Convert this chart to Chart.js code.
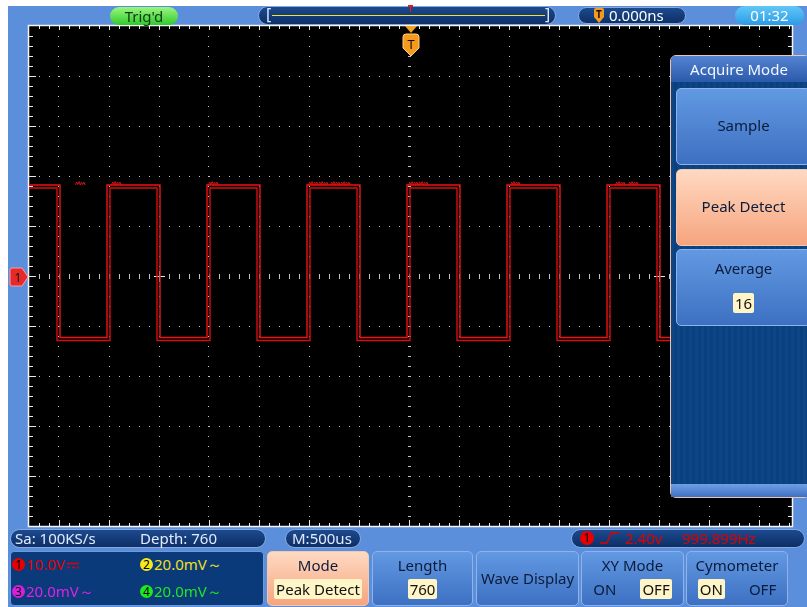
<!DOCTYPE html>
<html>
<head>
<meta charset="utf-8">
<script src="https://cdn.jsdelivr.net/npm/chart.js@4.4.1/dist/chart.umd.min.js"></script>
<style>
  html, body { margin: 0; padding: 0; background: #fff; }
  body { width: 807px; height: 607px; position: relative; overflow: hidden;
         font-family: "Noto Sans", "Open Sans", sans-serif; }
  #screen { position: absolute; left: 8px; top: 6px; width: 799px; height: 601px; background: #5b8fdc; }
  #scope { position: absolute; left: 0; top: 0; }
  .abs { position: absolute; box-sizing: border-box; }
  .pill { border-radius: 10px; background: linear-gradient(#1d4a8e, #0d2f66); border: 1px solid #86a8dc; }
  .btn { border-radius: 5px; border: 1px solid #8fb3e8; background: linear-gradient(#6299e2, #3d70c2);
         color: #0b1b3a; text-align: center; font-size: 15px; }
  .btn.hot { background: linear-gradient(#ffd9c2, #f6a47e); border-color: #f3c9b0; }
  .sel { background: #fff5c6; color: #111; border-radius: 2px; padding: 0 2px; }
  .num { display: inline-block; width: 13px; height: 13px; border-radius: 7px; color: #000;
         font-size: 12px; line-height: 13px; text-align: center; vertical-align: 1px; margin-right: 1px; }
</style>
</head>
<body>
<div id="screen"></div>
<canvas id="scope" width="807" height="607"></canvas>

<!-- top bar -->
<div class="abs" style="left:110px;top:7px;width:68px;height:18px;border-radius:9px;background:linear-gradient(#9cf57f,#2ecb2e);color:#0f3a0f;font-size:15px;line-height:18px;text-align:center;">Trig'd</div>
<div class="abs pill" style="left:258px;top:6px;width:298px;height:19px;"></div>
<div class="abs" style="left:266px;top:3px;color:#dfe8ff;font-size:16px;">[</div>
<div class="abs" style="left:545px;top:3px;color:#dfe8ff;font-size:16px;">]</div>
<div class="abs" style="left:272px;top:15px;width:273px;height:1px;background:#f2e23a;"></div>
<div class="abs" style="left:408px;top:5px;width:5px;height:2px;background:#e81818;"></div>
<div class="abs" style="left:410px;top:5px;width:1px;height:7px;background:#e81818;"></div>
<div class="abs pill" style="left:578px;top:7px;width:108px;height:17px;"></div>
<svg class="abs" style="left:592px;top:8px;" width="14" height="16"><path d="M2 2 Q2 0 4 0 H10 Q12 0 12 2 V9 L7 15 L2 9 Z" fill="#f59a1e"/><text x="7" y="10" font-size="10" text-anchor="middle" font-family="Noto Sans" font-weight="bold" fill="#111">T</text></svg>
<div class="abs" style="left:609px;top:6px;color:#fff;font-size:15px;line-height:18px;">0.000ns</div>
<div class="abs" style="left:735px;top:6px;width:69px;height:19px;border-radius:10px;background:linear-gradient(#62c7f7,#2a9ce6);color:#fff;font-size:15px;line-height:19px;text-align:center;">01:32</div>

<!-- trigger position marker -->
<svg class="abs" style="left:401px;top:26px;" width="20" height="32">
  <path d="M4 0 H16 L10 7 Z" fill="#f5a21e"/>
  <path d="M2 11 Q2 8 5 8 H15 Q18 8 18 11 V22 L10 30 L2 22 Z" fill="#f59a1e" stroke="#ffcf7a" stroke-width="1"/>
  <text x="10" y="23" font-size="13" text-anchor="middle" font-family="Noto Sans" fill="#111">T</text>
</svg>
<!-- channel 1 marker -->
<svg class="abs" style="left:8px;top:267px;" width="22" height="20">
  <path d="M2 3 Q2 1 4 1 H14 L20 10 L14 19 H4 Q2 19 2 17 Z" fill="#e52a2a" stroke="#ff9a9a" stroke-width="1"/>
  <text x="10" y="15" font-size="12" text-anchor="middle" font-family="Noto Sans" fill="#111">1</text>
</svg>

<!-- Acquire Mode menu -->
<div class="abs" style="left:670px;top:55px;width:140px;height:443px;border-radius:6px;border:1px solid #f0c4ac;background:repeating-linear-gradient(90deg,#0c4686 0 3px,#0a407e 3px 6px);"></div>
<div class="abs" style="left:671px;top:56px;width:136px;height:26px;border-radius:5px 0 0 0;background:linear-gradient(#5383d2,#2a5aa9);color:#f2f6ff;font-size:15px;line-height:26px;text-align:center;">Acquire Mode</div>
<div class="abs btn" style="left:676px;top:88px;width:135px;height:77px;line-height:73px;">Sample</div>
<div class="abs btn hot" style="left:676px;top:169px;width:135px;height:77px;line-height:73px;">Peak Detect</div>
<div class="abs btn" style="left:676px;top:249px;width:135px;height:77px;">
  <div style="margin-top:8px;line-height:20px;">Average</div>
  <div style="margin-top:15px;line-height:20px;"><span class="sel">16</span></div>
</div>
<div class="abs" style="left:671px;top:484px;width:136px;height:13px;background:linear-gradient(#6fa0e6,#3e6fc2);"></div>

<!-- status row -->
<div class="abs pill" style="left:10px;top:529px;width:256px;height:19px;"></div>
<div class="abs" style="left:15px;top:528px;color:#e3ebff;font-size:15px;line-height:20px;">Sa: 100KS/s</div>
<div class="abs" style="left:140px;top:528px;color:#e3ebff;font-size:15px;line-height:20px;">Depth: 760</div>
<div class="abs pill" style="left:285px;top:529px;width:76px;height:19px;"></div>
<div class="abs" style="left:292px;top:528px;color:#e3ebff;font-size:15px;line-height:20px;">M:500us</div>
<div class="abs pill" style="left:571px;top:529px;width:234px;height:19px;"></div>
<div class="abs" style="left:580px;top:531px;width:14px;height:14px;border-radius:7px;background:#e80000;color:#000;font-size:12px;line-height:14px;text-align:center;">1</div>
<svg class="abs" style="left:599px;top:530px;" width="22" height="16"><path d="M1 13 H8 L12 3 H20" fill="none" stroke="#e00000" stroke-width="1.3"/></svg>
<div class="abs" style="left:625px;top:528px;color:#e00000;font-size:15px;line-height:20px;">2.40v</div>
<div class="abs" style="left:682px;top:528px;color:#e00000;font-size:15px;line-height:20px;">999.899Hz</div>

<!-- channel box -->
<div class="abs" style="left:10px;top:551px;width:254px;height:55px;border-radius:4px;border:1px solid #6d9ad8;background:#0b3a7a;"></div>
<div class="abs" style="left:12px;top:554px;color:#e00000;font-size:15px;line-height:20px;"><span class="num" style="background:#e80000;">1</span>10.0V<svg width="14" height="10" style="margin-left:1px;"><path d="M1 3.5 H13" stroke="#e00000" stroke-width="1.5"/><path d="M1 7.5 H13" stroke="#e00000" stroke-width="1.5" stroke-dasharray="3 2"/></svg></div>
<div class="abs" style="left:140px;top:554px;color:#f0e020;font-size:15px;line-height:20px;"><span class="num" style="background:#f6e81a;">2</span>20.0mV～</div>
<div class="abs" style="left:12px;top:581px;color:#e020e8;font-size:15px;line-height:20px;"><span class="num" style="background:#d81ee0;">3</span>20.0mV～</div>
<div class="abs" style="left:140px;top:581px;color:#1ee81e;font-size:15px;line-height:20px;"><span class="num" style="background:#1ee81e;">4</span>20.0mV～</div>

<!-- soft buttons -->
<div class="abs btn hot" style="left:267px;top:551px;width:102px;height:55px;">
  <div style="line-height:26px;">Mode</div><div style="line-height:22px;"><span class="sel">Peak Detect</span></div></div>
<div class="abs btn" style="left:372px;top:551px;width:101px;height:55px;">
  <div style="line-height:26px;">Length</div><div style="line-height:22px;"><span class="sel">760</span></div></div>
<div class="abs btn" style="left:476px;top:551px;width:103px;height:55px;line-height:53px;">Wave Display</div>
<div class="abs btn" style="left:581px;top:551px;width:103px;height:55px;">
  <div style="line-height:26px;">XY Mode</div>
  <div style="line-height:22px;"><span style="margin-right:24px;">ON</span><span class="sel">OFF</span></div></div>
<div class="abs btn" style="left:686px;top:551px;width:102px;height:55px;">
  <div style="line-height:26px;">Cymometer</div>
  <div style="line-height:22px;"><span class="sel" style="margin-right:24px;">ON</span><span>OFF</span></div></div>

<script>
// Horizontal: time in ms relative to trigger (500 us/div). Vertical: volts (10 V/div).
var timeGrid  = [-3.5, -3, -2.5, -2, -1.5, -1, -0.5, 0, 0.5, 1, 1.5, 2, 2.5, 3, 3.5];
var voltGrid  = [-40, -30, -20, -10, 0, 10, 20, 30, 40];
var crossTimes = [-2.5, 2.5];

// Square wave edges (ms).
var risingEdges  = [-3, -2, -1, 0, 1, 2];
var fallingEdges = [-3.5, -2.5, -1.5, -0.5, 0.5, 1.5, 2.5];
// Peak-detect envelope: [high, low] levels in volts for max and min traces.
var maxTraceLevels = [18.2, -12.3];
var minTraceLevels = [17.6, -12.9];
var edgeSkew = 0.015; // ms between max and min trace on an edge

// Noise seen on top of the high level: start time (ms) of each burst, and its zigzag (volts above high).
var noiseStarts = [-3.33, -2.97, -2.0, -1.0, -0.9, -0.78, -0.68, 0.0, 0.1, 1.02, 2.07, 2.2];
var noiseShape  = [0, 0.6, 0.1, 0.7, 0, 0.6, 0.1, 0.6, 0];

var X_MIN = -3.795, X_MAX = 3.835;

function buildTrace(levels, isMax) {
  var edges = risingEdges.map(function(t) { return { t: t, up: true }; })
    .concat(fallingEdges.map(function(t) { return { t: t, up: false }; }))
    .sort(function(a, b) { return a.t - b.t; });
  var hi = levels[0], lo = levels[1];
  var pts = [{ x: X_MIN, y: hi }];
  edges.forEach(function(e) {
    var shift = (e.up === isMax) ? -edgeSkew : edgeSkew;
    var x = e.t + shift;
    pts.push({ x: x, y: e.up ? lo : hi });
    pts.push({ x: x, y: e.up ? hi : lo });
  });
  pts.push({ x: X_MAX, y: lo });
  return pts;
}

function buildNoise() {
  var pts = [];
  noiseStarts.forEach(function(t0) {
    noiseShape.forEach(function(dv, i) {
      pts.push({ x: t0 + i * 0.012, y: maxTraceLevels[0] + dv });
    });
    pts.push({ x: t0 + noiseShape.length * 0.012, y: null });
  });
  return pts;
}

var scopeGrid = {
  id: 'scopeGrid',
  beforeDatasetsDraw: function(chart) {
    var ctx = chart.ctx, a = chart.chartArea;
    var xs = chart.scales.x, ys = chart.scales.y;
    var x0 = Math.round(xs.getPixelForValue(0)), y0 = Math.round(ys.getPixelForValue(0));
    var p, q;
    ctx.save();
    ctx.fillStyle = '#000';
    ctx.fillRect(a.left, a.top, a.right - a.left, a.bottom - a.top);
    ctx.fillStyle = '#c4c4c4';
    // dotted verticals
    timeGrid.forEach(function(t) {
      p = Math.round(xs.getPixelForValue(t));
      for (q = y0 - 250; q < a.bottom; q += 10) {
        if (q > a.top + 2) { ctx.fillRect(p, q, 1, 1); }
      }
    });
    // dotted horizontals
    voltGrid.forEach(function(v) {
      p = Math.round(ys.getPixelForValue(v));
      for (q = x0 - 400; q < a.right; q += 10) {
        if (q > a.left + 2) { ctx.fillRect(q, p, 1, 1); }
      }
    });
    // centre axis ticks
    for (q = x0 - 400; q < a.right; q += 10) {
      if (q > a.left + 2) { ctx.fillRect(q, y0 - 2, 1, 5); }
    }
    for (q = y0 - 250; q < a.bottom; q += 10) {
      if (q > a.top + 2) { ctx.fillRect(x0 - 1, q, 3, 1); }
    }
    ctx.fillStyle = '#e8e8e8';
    crossTimes.forEach(function(t) {
      p = Math.round(xs.getPixelForValue(t));
      ctx.fillRect(p - 5, y0, 11, 1);
      ctx.fillRect(p, y0 - 5, 1, 11);
    });
    // edge ticks
    for (q = x0 - 400; q < a.right; q += 10) {
      if (q <= a.left) { continue; }
      var major = ((q - x0) % 50 === 0);
      ctx.fillRect(q, a.top, 1, major ? 4 : 3);
      ctx.fillRect(q, a.bottom - (major ? 6 : 3), 1, major ? 6 : 3);
    }
    for (q = y0 - 250; q < a.bottom; q += 10) {
      if (q <= a.top) { continue; }
      var maj = ((q - y0) % 50 === 0);
      ctx.fillRect(a.left, q, maj ? 7 : 4, 1);
      ctx.fillRect(a.right - (maj ? 7 : 4), q, maj ? 7 : 4, 1);
    }
    // frame
    ctx.strokeStyle = '#f4f4f4';
    ctx.lineWidth = 1.5;
    ctx.strokeRect(a.left - 0.5, a.top - 0.5, a.right - a.left + 1, a.bottom - a.top + 1);
    ctx.restore();
  }
};

new Chart(document.getElementById('scope'), {
  type: 'line',
  data: {
    datasets: [{
      label: 'CH1 max',
      data: buildTrace(maxTraceLevels, true),
      borderColor: 'rgb(236,20,20)',
      borderWidth: 1.4,
      pointRadius: 0,
      tension: 0
    }, {
      label: 'CH1 min',
      data: buildTrace(minTraceLevels, false),
      borderColor: 'rgb(215,12,12)',
      borderWidth: 1.4,
      pointRadius: 0,
      tension: 0
    }, {
      label: 'CH1 noise',
      data: buildNoise(),
      borderColor: 'rgb(200,20,20)',
      borderWidth: 1,
      pointRadius: 0,
      tension: 0,
      spanGaps: false
    }]
  },
  options: {
    responsive: false,
    animation: false,
    events: [],
    layout: { padding: { left: 29, top: 26, right: 15, bottom: 81 } },
    plugins: { legend: { display: false }, tooltip: { enabled: false } },
    scales: {
      x: { type: 'linear', display: false, min: X_MIN, max: X_MAX },
      y: { type: 'linear', display: false, min: -50, max: 50 }
    }
  },
  plugins: [scopeGrid]
});
</script>
</body>
</html>
